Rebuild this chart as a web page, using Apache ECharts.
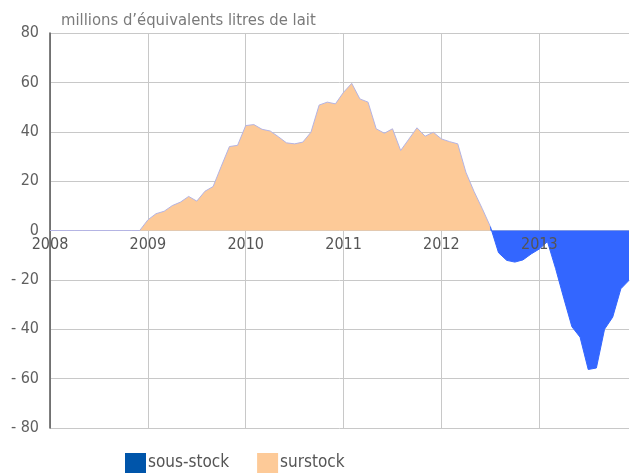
<!DOCTYPE html>
<html>
<head>
<meta charset="utf-8">
<script src="https://cdn.jsdelivr.net/npm/echarts@6/dist/echarts.min.js"></script>
<style>
  html, body { margin: 0; padding: 0; background: #fff; }
  #chart { width: 638px; height: 475px; }
</style>
</head>
<body>
<div id="chart"></div>
<script>
// monthly, Jan 2008 .. Dec 2013
const years = ["2008", "2009", "2010", "2011", "2012", "2013"]
const months = []
years.forEach((y) => { for (let m = 1; m <= 12; m++) months.push(y + "-" + String(m).padStart(2, "0")) })

const surstock = [
  0, 0, 0, 0, 0, 0, 0, 0, 0, 0, 0, 0,
  4.3, 6.8, 7.8, 10.1, 11.5, 13.8, 11.9, 15.9, 17.8, 26, 34, 34.5,
  42.5, 42.9, 41, 40.3, 38, 35.5, 35.1, 35.8, 39.8, 50.8, 52, 51.3,
  56, 59.6, 53.3, 52, 41.2, 39.4, 41.2, 32.4, 37, 41.6, 38.2, 39.8,
  37.1, 36, 35.1, 23.6, 15.8, 8.9, 1.6, null, null, null, null, null,
  null, null, null, null, null, null, null, null, null, null, null, null,
]
const sousStock = [
  null, null, null, null, null, null, null, null, null, null, null, null,
  null, null, null, null, null, null, null, null, null, null, null, null,
  null, null, null, null, null, null, null, null, null, null, null, null,
  null, null, null, null, null, null, null, null, null, null, null, null,
  null, null, null, null, null, null, 1.6, -9, -12.1, -12.8, -11.9, -9.5,
  -7.5, -4.5, -15.4, -27.4, -39, -43.2, -56.3, -55.7, -40, -35.1, -23.6, -20.2,
]

const FONT = "'Liberation Sans Narrow', 'DejaVu Sans Condensed', 'Roboto', sans-serif"
const yearTick = (i) => i % 12 === 0

const chart = echarts.init(document.getElementById("chart"), null, { renderer: "canvas" })
chart.setOption({
  backgroundColor: "#fff",
  animation: false,
  textStyle: { fontFamily: FONT },
  title: {
    text: "millions d\u2019\u00e9quivalents litres de lait",
    left: 56,
    top: 7,
    textStyle: { color: "#7a7a7a", fontSize: 16.5, fontWeight: "normal", fontFamily: FONT },
  },
  legend: {
    left: 120,
    top: 448,
    itemWidth: 21,
    itemHeight: 20,
    itemGap: 28,
    icon: "rect",
    textStyle: { color: "#555", fontSize: 17, fontFamily: FONT, padding: [3, 0, 0, -3] },
    data: [
      { name: "sous-stock", itemStyle: { color: "#0055aa" } },
      { name: "surstock", itemStyle: { color: "#fdca98" } },
    ],
  },
  grid: { left: 50, right: 9, top: 33, bottom: 47 },
  xAxis: [
    {
      type: "category",
      data: months,
      boundaryGap: false,
      z: 0,
      axisLine: { show: false },
      axisTick: { show: false },
      axisLabel: { show: false },
      splitLine: { show: true, interval: yearTick, lineStyle: { color: "#c8c8c8", width: 1 } },
    },
    {
      // year labels sit just under the zero line, on top of the areas
      type: "category",
      data: months,
      boundaryGap: false,
      position: "bottom",
      offset: -197.5,
      zlevel: 1,
      z: 10,
      axisLine: { show: false, onZero: false },
      axisTick: { show: false },
      splitLine: { show: false },
      axisLabel: {
        interval: 11,
        margin: 6,
        color: "#555",
        fontSize: 16,
        fontFamily: FONT,
        formatter: (v) => v.slice(0, 4),
      },
    },
  ],
  yAxis: {
    type: "value",
    min: -80,
    max: 80,
    interval: 20,
    axisLine: { show: true, onZero: false, lineStyle: { color: "#555", width: 1.5 } },
    axisTick: { show: false },
    axisLabel: {
      color: "#606060",
      fontSize: 16,
      margin: 11,
      fontFamily: FONT,
      formatter: (v) => (v < 0 ? "- " + Math.abs(v) : String(v)),
    },
    splitLine: { lineStyle: { color: "#c8c8c8", width: 1 } },
  },
  series: [
    {
      name: "surstock",
      type: "line",
      data: surstock,
      symbol: "none",
      z: 2,
      lineStyle: { color: "#b4b4e4", width: 1 },
      itemStyle: { color: "#fdca98" },
      areaStyle: { color: "#fdca98", opacity: 1 },
    },
    {
      name: "sous-stock",
      type: "line",
      data: sousStock,
      symbol: "none",
      z: 3,
      lineStyle: { color: "#3366ff", width: 1 },
      itemStyle: { color: "#0055aa" },
      areaStyle: { color: "#3366ff", opacity: 1 },
    },
  ],
})
</script>
</body>
</html>
